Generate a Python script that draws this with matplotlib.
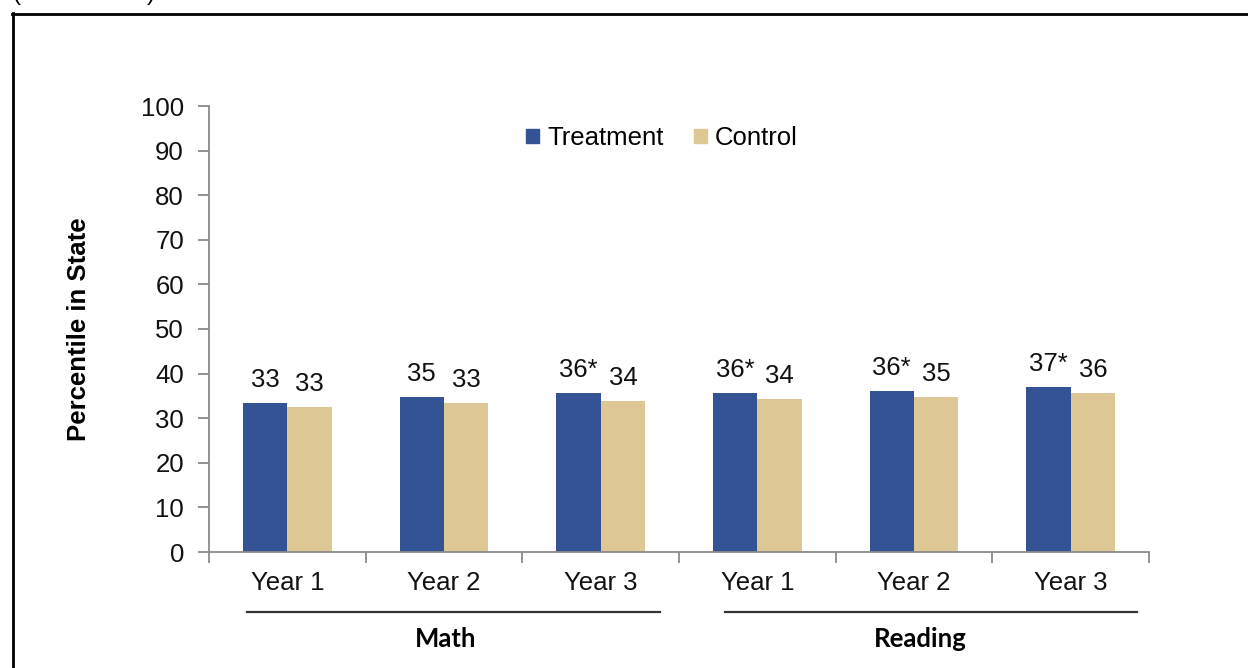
import matplotlib
matplotlib.use("Agg")
import matplotlib.pyplot as plt
from matplotlib.lines import Line2D
from matplotlib.patches import Patch
import matplotlib.transforms as mtransforms
import numpy as np

plt.rcParams['font.family'] = ['Liberation Sans', 'DejaVu Sans']

# ---- data ----
categories = ["Year 1", "Year 2", "Year 3", "Year 1", "Year 2", "Year 3"]
groups = ["Math", "Reading"]
treatment = [33.4, 34.8, 35.7, 35.7, 36.1, 37.0]
control = [32.4, 33.4, 33.9, 34.3, 34.8, 35.7]
treatment_labels = ["33", "35", "36*", "36*", "36*", "37*"]
control_labels = ["33", "33", "34", "34", "35", "36"]
yticks = [0, 10, 20, 30, 40, 50, 60, 70, 80, 90, 100]

BLUE = "#345394"
TAN = "#DCC795"
SPINE = "#8a8a8a"
FS = 18.5

W, H = 1248, 668
fig = plt.figure(figsize=(W / 100, H / 100), dpi=100)
ax = fig.add_axes([209 / W, 1 - 552 / H, (1149 - 209) / W, (552 - 106) / H])

x = np.arange(len(categories))
bw = 0.284
ax.bar(x - bw / 2, treatment, bw, color=BLUE, label="Treatment", zorder=2)
ax.bar(x + bw / 2, control, bw, color=TAN, label="Control", zorder=2)

for xi, v, s in zip(x, treatment, treatment_labels):
    ax.annotate(s, (xi - bw / 2, v), xytext=(0, 16), textcoords="offset pixels",
                ha="center", va="baseline", fontsize=FS, color="#111111")
for xi, v, s in zip(x, control, control_labels):
    ax.annotate(s, (xi + bw / 2, v), xytext=(0, 16), textcoords="offset pixels",
                ha="center", va="baseline", fontsize=FS, color="#111111")

ax.set_xlim(-0.5, len(categories) - 0.5)
ax.set_ylim(0, 100)
ax.set_yticks(yticks)
ax.tick_params(axis="y", length=8, width=1.3, color=SPINE, pad=10, labelsize=FS,
               labelcolor="#111111")
ax.set_xticks(x)
ax.set_xticklabels(categories)
ax.tick_params(axis="x", which="major", length=0, pad=14, labelsize=FS,
               labelcolor="#111111")
ax.set_xticks(np.arange(-0.5, len(categories)), minor=True)
ax.tick_params(axis="x", which="minor", length=8, width=1.3, color=SPINE)

for s in ["top", "right"]:
    ax.spines[s].set_visible(False)
for s in ["left", "bottom"]:
    ax.spines[s].set_color(SPINE)
    ax.spines[s].set_linewidth(1.3)

ax.set_ylabel("Percentile in State", fontsize=18.5, fontweight="bold", labelpad=36)

# group brackets
trans = mtransforms.blended_transform_factory(ax.transData, ax.transAxes)
group_spans = [(-0.257, 2.379), (2.793, 5.423)]
group_centers = [1.013, 4.038]
for (a, b), c, g in zip(group_spans, group_centers, groups):
    ax.add_line(Line2D([a, b], [-0.1345, -0.1345], transform=trans, color="#333333",
                       lw=1.6, clip_on=False))
    ax.text(c, -0.195, g, transform=trans, ha="center", va="center",
            fontsize=18.5, fontweight="bold", family=["Lato", "DejaVu Sans"])

handles = [Patch(color=BLUE), Patch(color=TAN)]
ax.legend(handles, ["Treatment", "Control"], loc="center", bbox_to_anchor=(0.482, 0.928),
          ncol=2, frameon=False, fontsize=18.5, handlelength=0.5, handleheight=0.5,
          handletextpad=0.3, columnspacing=1.2)

# outer frame
fig.add_artist(Line2D([12.5 / W, 12.5 / W], [0, 1 - 13 / H], color="black", lw=2,
                      transform=fig.transFigure))
fig.add_artist(Line2D([12 / W, 1], [1 - 13.5 / H, 1 - 13.5 / H], color="black", lw=2,
                      transform=fig.transFigure))
fig.text(13 / W, 1.0, "(", ha="left", va="baseline", fontsize=17)
fig.text(147 / W, 1.0, ")", ha="left", va="baseline", fontsize=17)

fig.savefig("out.png", dpi=100)
